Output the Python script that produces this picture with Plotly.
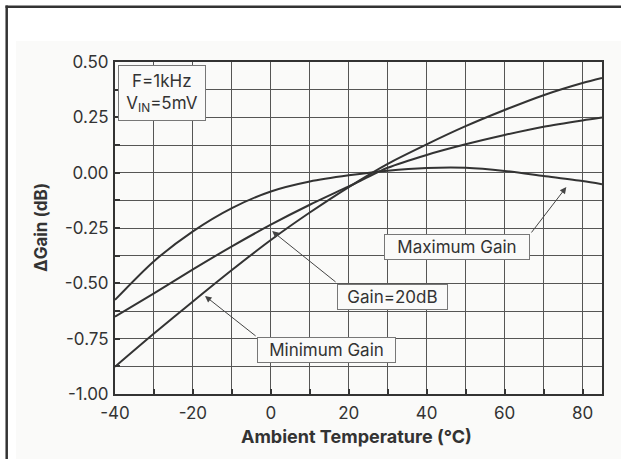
import plotly.graph_objects as go

# Ambient temperature (°C) at which the gain deviation is tabulated
temperature = [-40, -30, -20, -10, 0, 10, 20, 30, 40, 50, 60, 70, 80, 85]

# Gain deviation (dB) for the three gain settings
max_gain = [-0.575, -0.400, -0.265, -0.160, -0.085, -0.040, -0.012, 0.009, 0.021, 0.022, 0.008, -0.015, -0.038, -0.052]
gain_20db = [-0.651, -0.545, -0.437, -0.333, -0.235, -0.145, -0.062, 0.022, 0.080, 0.128, 0.170, 0.207, 0.236, 0.249]
min_gain = [-0.877, -0.727, -0.582, -0.440, -0.304, -0.180, -0.065, 0.040, 0.128, 0.210, 0.283, 0.350, 0.405, 0.428]

# Grid/tick positions; only every other one carries a label
y_ticks = [0.500, 0.375, 0.250, 0.125, 0.000, -0.125, -0.250, -0.375,
           -0.500, -0.625, -0.750, -0.875, -1.000]
y_tick_text = ["0.50", "", "0.25", "", "0.00", "", "-0.25", "",
               "-0.50", "", "-0.75", "", "-1.00"]
x_ticks = [-40, -30, -20, -10, 0, 10, 20, 30, 40, 50, 60, 70, 80]
x_tick_text = ["-40", "", "-20", "", "0", "", "20", "", "40", "", "60", "", "80"]

INK = "#333333"
PANEL = "#fafaf9"
GRID = "#555555"
FONT = "Inter"
FS = 17

W, H = 621, 459
ML, MR, MT, MB = 115, 19, 62, 65
PW, PH = W - ML - MR, H - MT - MB


def px(x):
    return (x - ML) / PW


def py(y):
    return (H - MB - y) / PH


fig = go.Figure()
for ys in (max_gain, gain_20db, min_gain):
    fig.add_trace(go.Scatter(
        x=temperature, y=ys, mode="lines",
        line=dict(color=INK, width=2, shape="spline", smoothing=0.8),
        showlegend=False, hoverinfo="skip",
    ))

annotations = []

# Test-condition box
annotations.append(dict(
    x=px(161.5), y=py(93), xref="paper", yref="paper",
    xanchor="center", yanchor="middle",
    text="F=1kHz<br>V<sub>IN</sub>=5mV", showarrow=False, align="center",
    width=82, height=50, borderpad=2, bordercolor="#777777", borderwidth=1,
    bgcolor=PANEL, font=dict(family=FONT, size=FS, color=INK),
))

# Curve labels
for label, cx, cy, w in (("Maximum Gain", 47.85, -0.334, 140),
                         ("Gain=20dB", 31.3, -0.560, 105),
                         ("Minimum Gain", 14.3, -0.799, 133)):
    annotations.append(dict(
        x=cx, y=cy, xref="x", yref="y", text=label, showarrow=False,
        xanchor="center", yanchor="middle",
        width=w, height=20, borderpad=2, bordercolor="#777777", borderwidth=1,
        bgcolor=PANEL, font=dict(family=FONT, size=FS, color=INK),
    ))

# Leader arrows from label boxes to the curves
for (x0, y0), (x1, y1) in (((66.6, -0.277), (75.85, -0.065)),
                           ((17.0, -0.499), (0.33, -0.264)),
                           ((-3.52, -0.743), (-16.9, -0.557))):
    annotations.append(dict(
        x=x1, y=y1, ax=x0, ay=y0, xref="x", yref="y", axref="x", ayref="y",
        text="", showarrow=True, arrowhead=2, arrowsize=1.3, arrowwidth=1,
        arrowcolor="#444444", standoff=0, startstandoff=0,
    ))

# Axis titles
annotations.append(dict(
    x=px(356), y=py(436), xref="paper", yref="paper",
    xanchor="center", yanchor="middle",
    text="<b>Ambient Temperature (°C)</b>", showarrow=False,
    font=dict(family=FONT, size=18, color=INK),
))
annotations.append(dict(
    x=px(41), y=py(228), xref="paper", yref="paper", textangle=-90,
    xanchor="center", yanchor="middle",
    text="<b>ΔGain (dB)</b>", showarrow=False,
    font=dict(family=FONT, size=FS, color=INK),
))

shapes = [
    # white margin strips around the light page panel
    dict(type="rect", xref="paper", yref="paper", x0=px(-5), x1=px(W + 5),
         y0=py(41), y1=py(-5), fillcolor="white", line=dict(width=0)),
    dict(type="rect", xref="paper", yref="paper", x0=px(-5), x1=px(16),
         y0=py(H + 5), y1=py(-5), fillcolor="white", line=dict(width=0)),
    # page frame lines
    dict(type="line", xref="paper", yref="paper", x0=px(5.5), x1=px(W + 5),
         y0=py(6.7), y1=py(6.7), line=dict(color=INK, width=2.5)),
    dict(type="line", xref="paper", yref="paper", x0=px(6.7), x1=px(6.7),
         y0=py(5.5), y1=py(H + 5), line=dict(color=INK, width=2.5)),
]

fig.update_layout(
    width=W, height=H,
    margin=dict(l=ML, r=MR, t=MT, b=MB),
    paper_bgcolor=PANEL, plot_bgcolor=PANEL,
    font=dict(family=FONT, size=FS, color=INK),
    annotations=annotations, shapes=shapes,
)
fig.update_xaxes(
    range=[-40, 85], tickmode="array", tickvals=x_ticks, ticktext=x_tick_text,
    showgrid=True, gridcolor=GRID, gridwidth=1.2,
    ticks="inside", ticklen=5, tickcolor=INK, tickwidth=1.5,
    showline=True, linecolor=INK, linewidth=2, mirror=True, zeroline=False,
    tickfont=dict(family=FONT, size=FS, color=INK), ticklabelstandoff=3,
)
fig.update_yaxes(
    range=[-1.0, 0.5], tickmode="array", tickvals=y_ticks, ticktext=y_tick_text,
    showgrid=True, gridcolor=GRID, gridwidth=1.2,
    ticks="inside", ticklen=5, tickcolor=INK, tickwidth=1.5,
    showline=True, linecolor=INK, linewidth=2, mirror=True, zeroline=False,
    tickfont=dict(family=FONT, size=FS, color=INK), ticklabelstandoff=1,
)

fig.write_html("out.html")
